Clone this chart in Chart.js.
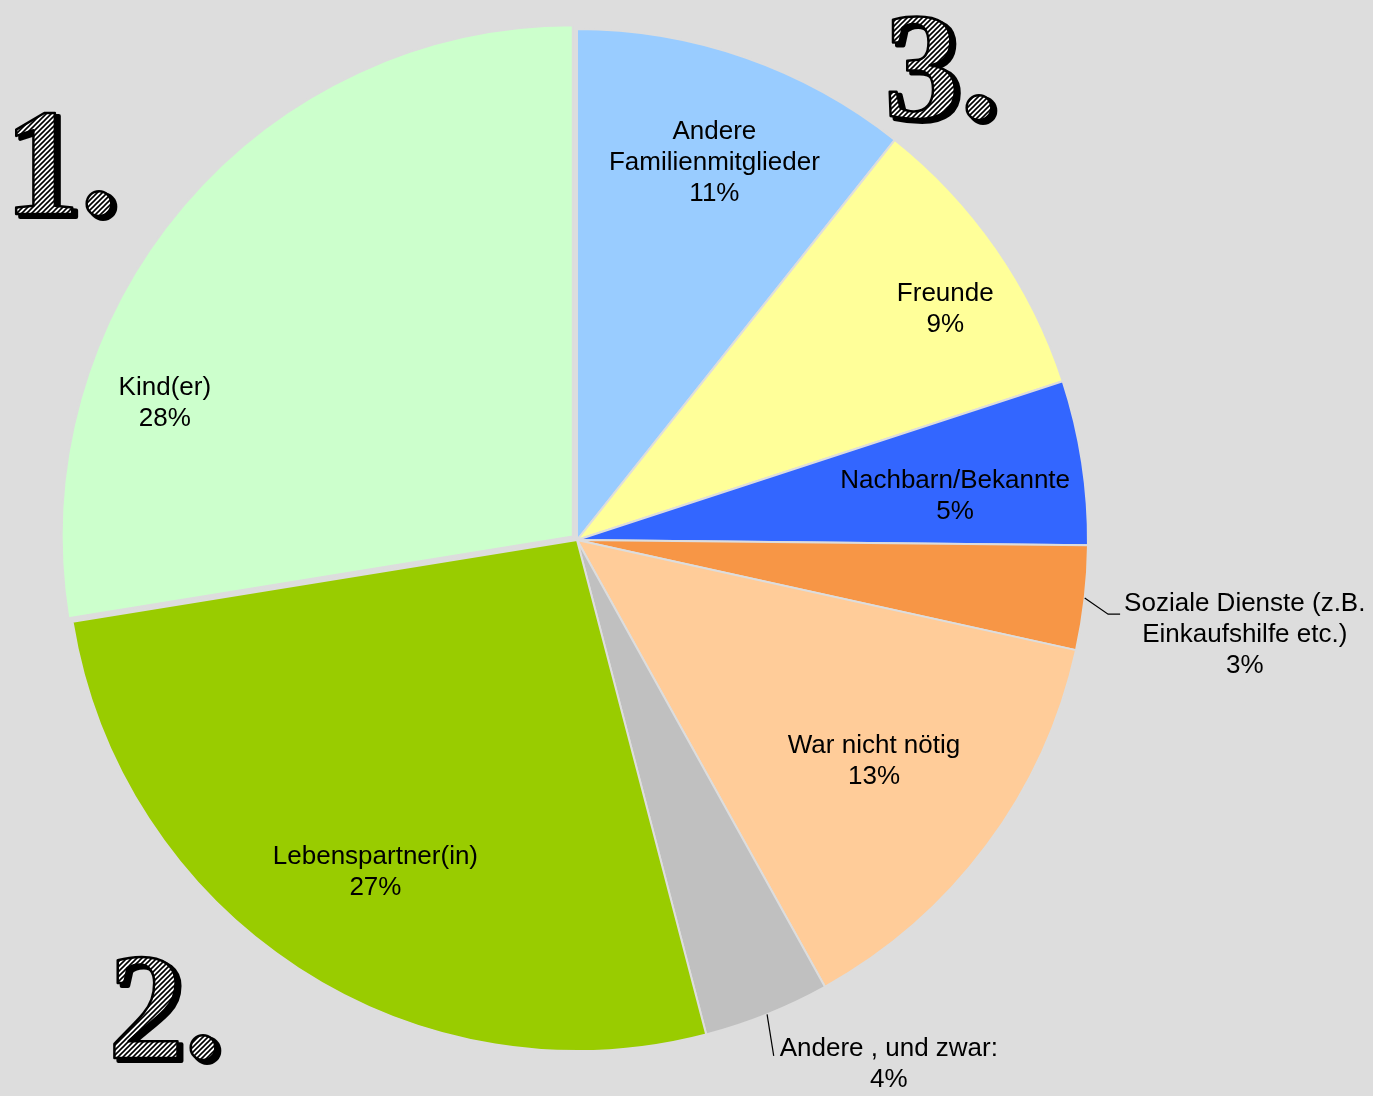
<!DOCTYPE html>
<html>
<head>
<meta charset="utf-8">
<script src="https://cdn.jsdelivr.net/npm/chart.js@4.4.0/dist/chart.umd.min.js"></script>
<style>
  html, body { margin: 0; padding: 0; background: #dddddd; }
  #wrap { width: 1373px; height: 1096px; position: relative; }
</style>
</head>
<body>
<div id="wrap"><canvas id="pieChart"></canvas></div>
<script>
// Hilfe beim Einkaufen - Anteile
const categories = [
    'Andere\nFamilienmitglieder',
    'Freunde',
    'Nachbarn/Bekannte',
    'Soziale Dienste (z.B.\nEinkaufshilfe etc.)',
    'War nicht nötig',
    'Andere , und zwar:',
    'Lebenspartner(in)',
    'Kind(er)'
];
const shares = [10.7, 9.3, 5.2, 3.3, 13.5, 4.0, 26.55, 27.6];
const sliceColors = ['#99ccff', '#ffff99', '#3366ff', '#f79646', '#ffcc99', '#c0c0c0', '#99cc00', '#ccffcc'];
const rankLabels = ['1.', '2.', '3.'];

// label placement: f = fraction of radius, da = angle shift in degrees
const labelPlacement = [
    { f: 0.785, da: 0.8 },
    { f: 0.85, da: 2.8 },
    { f: 0.745, da: 2.1 },
    { f: 1.32, da: 1.6, outside: 'elbow' },
    { f: 0.725, da: 0 },
    { f: 1.194, da: -8.9, outside: 'straight' },
    { f: 0.76, da: -1.8 },
    { f: 0.85, da: -22 }
];
const rankPos = [{ x: 4, y: 214 }, { x: 108, y: 1058 }, { x: 884, y: 118 }];

const LABEL_FONT = '26px "Liberation Sans", Arial, sans-serif';
const LINE_H = 31;

function makeHatch(ctx) {
    const c = document.createElement('canvas');
    c.width = 5; c.height = 5;
    const g = c.getContext('2d');
    g.fillStyle = '#ffffff';
    g.fillRect(0, 0, 5, 5);
    g.strokeStyle = '#000000';
    g.lineWidth = 1.6;
    g.beginPath();
    g.moveTo(-1, 6); g.lineTo(6, -1);
    g.moveTo(-1, 1); g.lineTo(1, -1);
    g.moveTo(4, 6); g.lineTo(6, 4);
    g.stroke();
    return ctx.createPattern(c, 'repeat');
}

const labelPlugin = {
    id: 'sliceLabels',
    afterDatasetsDraw(chart) {
        const ctx = chart.ctx;
        const meta = chart.getDatasetMeta(0);
        const total = shares.reduce((a, b) => a + b, 0);
        ctx.save();
        ctx.font = LABEL_FONT;
        ctx.fillStyle = '#000';
        ctx.textAlign = 'center';
        ctx.textBaseline = 'middle';
        meta.data.forEach((arc, i) => {
            const p = arc.getProps(['x', 'y', 'startAngle', 'endAngle', 'outerRadius'], true);
            const mid = (p.startAngle + p.endAngle) / 2;
            const pl = labelPlacement[i];
            const a = mid + pl.da * Math.PI / 180;
            const cx = p.x + Math.cos(a) * pl.f * p.outerRadius;
            const cy = p.y + Math.sin(a) * pl.f * p.outerRadius;
            const lines = categories[i].split('\n');
            lines.push(Math.round(shares[i] / total * 100) + '%');
            const top = cy - (lines.length - 1) * LINE_H / 2;
            lines.forEach((t, k) => ctx.fillText(t, cx, top + k * LINE_H));

            if (pl.outside) {
                const w1 = ctx.measureText(lines[0]).width;
                const left = cx - w1 / 2;
                const ex = p.x + Math.cos(mid) * p.outerRadius;
                const ey = p.y + Math.sin(mid) * p.outerRadius;
                ctx.strokeStyle = '#000';
                ctx.lineWidth = 1.2;
                ctx.beginPath();
                ctx.moveTo(ex, ey);
                if (pl.outside === 'elbow') {
                    ctx.lineTo(left - 16, top + 10);
                    ctx.lineTo(left - 4, top + 10);
                } else {
                    ctx.lineTo(left - 6, top + 7);
                }
                ctx.stroke();
            }
        });
        ctx.restore();
    },
    afterDraw(chart) {
        const ctx = chart.ctx;
        const hatch = makeHatch(ctx);
        ctx.save();
        ctx.font = 'bold 152px "Liberation Serif", "Times New Roman", serif';
        ctx.textAlign = 'left';
        ctx.textBaseline = 'alphabetic';
        ctx.lineJoin = 'round';
        rankLabels.forEach((t, i) => {
            const pos = rankPos[i];
            // shadow
            ctx.fillStyle = '#000';
            ctx.strokeStyle = '#000';
            ctx.lineWidth = 4;
            ctx.fillText(t, pos.x + 4, pos.y + 3);
            ctx.strokeText(t, pos.x + 4, pos.y + 3);
            // hatched face
            ctx.fillStyle = hatch;
            ctx.fillText(t, pos.x, pos.y);
            ctx.lineWidth = 2.5;
            ctx.strokeText(t, pos.x, pos.y);
        });
        ctx.restore();
    }
};

new Chart(document.getElementById('pieChart').getContext('2d'), {
    type: 'pie',
    data: {
        labels: categories,
        datasets: [{
            data: shares,
            backgroundColor: sliceColors,
            borderColor: '#dddddd',
            borderWidth: 2,
            // Chart.js v4 draws offset / 4 -> about 5-6px explode for Kind(er)
            offset: [0, 0, 0, 0, 0, 0, 0, 22]
        }]
    },
    options: {
        responsive: true,
        maintainAspectRatio: false,
        animation: false,
        radius: 511,
        layout: { padding: { left: 0, right: 219, top: 0, bottom: 16 } },
        plugins: {
            legend: { display: false },
            tooltip: { enabled: false }
        }
    },
    plugins: [labelPlugin]
});
</script>
</body>
</html>
